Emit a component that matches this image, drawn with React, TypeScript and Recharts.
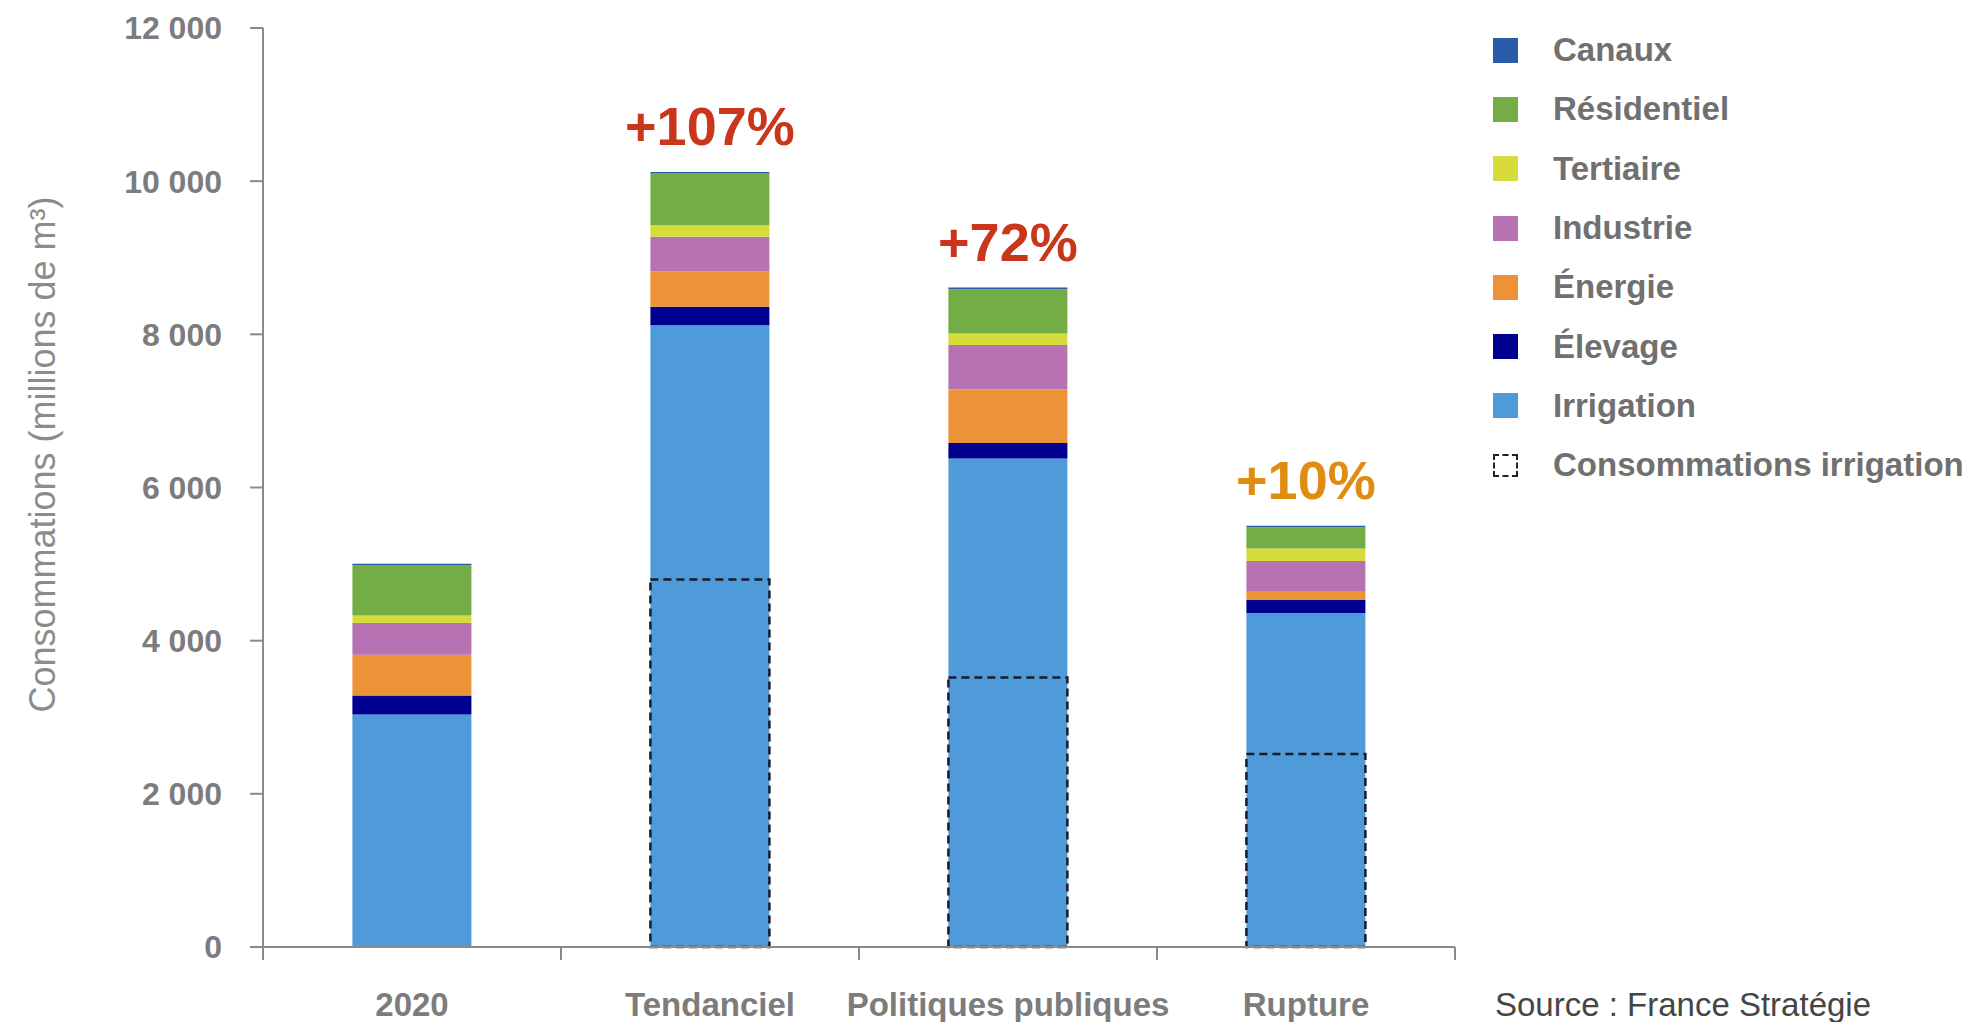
import React from "react";
import { BarChart, Bar, XAxis, YAxis, LabelList } from "recharts";

// ---- data ----
const categories = ["2020", "Tendanciel", "Politiques publiques", "Rupture"];
const irrigation = [3035, 8120, 6380, 4360];
const elevage = [250, 240, 200, 170];
const energie = [530, 465, 700, 120];
const industrie = [415, 450, 580, 390];
const tertiaire = [100, 150, 150, 165];
const residentiel = [655, 675, 580, 275];
const canaux = [20, 20, 20, 20];
const consoIrrigation: (number | null)[] = [null, 4800, 3520, 2520];
const variations = ["", "+107%", "+72%", "+10%"];
const yTicks = [0, 2000, 4000, 6000, 8000, 10000, 12000];

const data = categories.map((name, i) => ({
  name,
  irrigation: irrigation[i],
  elevage: elevage[i],
  energie: energie[i],
  industrie: industrie[i],
  tertiaire: tertiaire[i],
  residentiel: residentiel[i],
  canaux: canaux[i],
  conso: consoIrrigation[i],
  pct: variations[i],
}));

// ---- styles ----
const FONT = '"Liberation Sans", Arial, sans-serif';
const COLORS = {
  canaux: "#2a5aa8",
  residentiel: "#74ad45",
  tertiaire: "#d6dc3c",
  industrie: "#b672b2",
  energie: "#ec9337",
  elevage: "#000090",
  irrigation: "#4f9ad8",
};
const LABEL_RED = "#c9361b";
const LABEL_ORANGE = "#e08c10";
const AXIS = "#8a8a8a";

const legendItems = [
  { label: "Canaux", color: COLORS.canaux },
  { label: "Résidentiel", color: COLORS.residentiel },
  { label: "Tertiaire", color: COLORS.tertiaire },
  { label: "Industrie", color: COLORS.industrie },
  { label: "Énergie", color: COLORS.energie },
  { label: "Élevage", color: COLORS.elevage },
  { label: "Irrigation", color: COLORS.irrigation },
  { label: "Consommations irrigation", color: null },
];

const fmt = (v: number) =>
  v === 0 ? "0" : String(v).replace(/\B(?=(\d{3})+(?!\d))/g, " ");

// category tick: label centred in the band, tick marks at band boundaries
const CatTick = (props: any) => {
  const { x, y, payload, index, visibleTicksCount } = props;
  const half = payload && payload.offset ? payload.offset : 0;
  const isLast = index === (visibleTicksCount ?? categories.length) - 1;
  return (
    <g>
      <line x1={x - half} y1={y} x2={x - half} y2={y + 13} stroke={AXIS} strokeWidth={2} />
      {isLast && (
        <line x1={x + half} y1={y} x2={x + half} y2={y + 13} stroke={AXIS} strokeWidth={2} />
      )}
      <text
        x={x}
        y={y + 57}
        textAnchor="middle"
        dominantBaseline="central"
        fill="#7c7c7c"
        fontSize={33}
        fontWeight="bold"
        fontFamily={FONT}
      >
        {payload.value}
      </text>
    </g>
  );
};

const PctLabel = (props: any) => {
  const { x, y, width, value } = props;
  if (!value) return null;
  const n = parseFloat(String(value).replace(/[+%]/g, ""));
  return (
    <text
      x={x + width / 2}
      y={y - 27}
      textAnchor="middle"
      fill={n < 50 ? LABEL_ORANGE : LABEL_RED}
      fontSize={54}
      fontWeight="bold"
      fontFamily={FONT}
    >
      {value}
    </text>
  );
};

const YTitle = (props: any) => {
  const vb = props.viewBox || { x: 0, y: 0, width: 0, height: 0 };
  const cx = vb.x + 42;
  const cy = vb.y + vb.height / 2 - 33;
  return (
    <text
      x={cx}
      y={cy}
      transform={`rotate(-90, ${cx}, ${cy})`}
      textAnchor="middle"
      dominantBaseline="central"
      fill="#8c8c8c"
      fontSize={36}
      fontFamily={FONT}
    >
      Consommations (millions de m³)
    </text>
  );
};

export default function App() {
  return (
    <div
      style={{
        position: "absolute",
        left: 0,
        top: 0,
        width: 1970,
        height: 1022,
        background: "#ffffff",
        fontFamily: FONT,
      }}
    >
      <BarChart
        width={1970}
        height={1022}
        data={data}
        margin={{ top: 28, right: 515, bottom: 0, left: 0 }}
        barCategoryGap="30%"
      >
        <YAxis
          type="number"
          domain={[0, 12000]}
          ticks={yTicks}
          width={263}
          tickFormatter={fmt}
          axisLine={{ stroke: AXIS, strokeWidth: 2 }}
          tickLine={{ stroke: AXIS, strokeWidth: 2 }}
          tickSize={13}
          tickMargin={28}
          tick={{ fill: "#7c7c7c", fontSize: 32, fontWeight: "bold", fontFamily: FONT }}
          label={<YTitle />}
        />
        <XAxis
          xAxisId="cat"
          dataKey="name"
          height={75}
          axisLine={{ stroke: AXIS, strokeWidth: 2 }}
          tickLine={false}
          tickSize={0}
          tickMargin={0}
          tick={<CatTick />}
          interval={0}
        />
        <XAxis xAxisId="over" dataKey="name" hide />
        <Bar xAxisId="cat" dataKey="irrigation" stackId="a" fill={COLORS.irrigation} isAnimationActive={false} />
        <Bar xAxisId="cat" dataKey="elevage" stackId="a" fill={COLORS.elevage} isAnimationActive={false} />
        <Bar xAxisId="cat" dataKey="energie" stackId="a" fill={COLORS.energie} isAnimationActive={false} />
        <Bar xAxisId="cat" dataKey="industrie" stackId="a" fill={COLORS.industrie} isAnimationActive={false} />
        <Bar xAxisId="cat" dataKey="tertiaire" stackId="a" fill={COLORS.tertiaire} isAnimationActive={false} />
        <Bar xAxisId="cat" dataKey="residentiel" stackId="a" fill={COLORS.residentiel} isAnimationActive={false} />
        <Bar xAxisId="cat" dataKey="canaux" stackId="a" fill={COLORS.canaux} isAnimationActive={false}>
          <LabelList dataKey="pct" content={<PctLabel />} />
        </Bar>
        <Bar
          xAxisId="over"
          dataKey="conso"
          fill="none"
          stroke="#1b1b28"
          strokeWidth={2.5}
          strokeDasharray="8 5"
          isAnimationActive={false}
        />
      </BarChart>

      <div style={{ position: "absolute", left: 1493, top: 20.5 }}>
        {legendItems.map((it) => (
          <div
            key={it.label}
            style={{ display: "flex", alignItems: "center", height: 59.3, whiteSpace: "nowrap" }}
          >
            {it.color ? (
              <div style={{ width: 25, height: 25, background: it.color, flex: "none" }} />
            ) : (
              <div
                style={{
                  width: 21,
                  height: 19,
                  border: "2px dashed #222",
                  flex: "none",
                }}
              />
            )}
            <span
              style={{
                marginLeft: 35,
                fontSize: 33,
                fontWeight: "bold",
                color: "#707070",
                fontFamily: FONT,
              }}
            >
              {it.label}
            </span>
          </div>
        ))}
      </div>

      <div
        style={{
          position: "absolute",
          left: 1495,
          top: 986,
          fontSize: 33,
          lineHeight: "38px",
          color: "#454545",
          fontFamily: FONT,
          whiteSpace: "nowrap",
        }}
      >
        Source : France Stratégie
      </div>
    </div>
  );
}
